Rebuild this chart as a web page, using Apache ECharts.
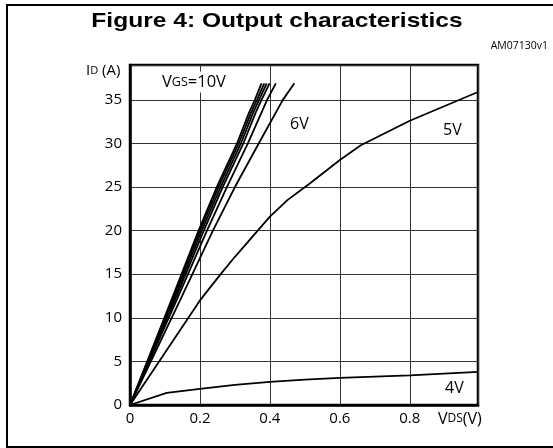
<!DOCTYPE html>
<html>
<head>
<meta charset="utf-8">
<script src="https://cdn.jsdelivr.net/npm/echarts@6/dist/echarts.min.js"></script>
<style>html,body{margin:0;padding:0;background:#fff}#c{width:553px;height:448px}</style>
</head>
<body>
<div id="c"></div>
<script>
// Data: [VDS (V), ID (A)]
const vgs10 = [[0,0],[0.118,12],[0.196,20],[0.248,25],[0.306,30],[0.340,33.5],[0.357,35],[0.376,36.9]];
const vgs9  = [[0,0],[0.121,12],[0.200,20],[0.253,25],[0.311,30],[0.346,33.5],[0.363,35],[0.384,36.9]];
const vgs8  = [[0,0],[0.124,12],[0.205,20],[0.259,25],[0.317,30],[0.352,33.5],[0.369,35],[0.391,36.9]];
const vgs7  = [[0,0],[0.128,12],[0.211,20],[0.265,25],[0.324,30],[0.359,33.5],[0.376,35],[0.399,36.9]];
const vgs65 = [[0,0],[0.133,12],[0.220,20],[0.277,25],[0.337,30],[0.392,35],[0.417,36.9]];
const vgs6  = [[0,0],[0.143,12],[0.237,20],[0.300,25],[0.368,30],[0.437,35],[0.470,36.9]];
const vgs5  = [[0,0],[0.1,6.0],[0.2,12.0],[0.257,14.9],[0.3,17.0],[0.4,21.6],[0.45,23.5],[0.514,25.4],[0.6,28.1],[0.66,29.8],[0.8,32.6],[0.995,35.9]];
const vgs4  = [[0,0],[0.105,1.4],[0.2,1.85],[0.3,2.3],[0.4,2.65],[0.5,2.9],[0.6,3.1],[0.8,3.4],[0.995,3.8]];
const curves = [vgs10, vgs9, vgs8, vgs7, vgs65, vgs6, vgs5, vgs4];
const curveNames = ['10V','9V','8V','7V','6.5V','6V','5V','4V'];
const xTicks = [0, 0.2, 0.4, 0.6, 0.8];
const yTicks = [0, 5, 10, 15, 20, 25, 30, 35];

const FONT = '"Open Sans", "DejaVu Sans", sans-serif';
const chart = echarts.init(document.getElementById('c'));
const grid = {left:130, top:65, right:75, bottom:43};

chart.setOption({
  animation:false,
  backgroundColor:'#fff',
  grid: Object.assign({show:true, borderColor:'#000', borderWidth:2.5, backgroundColor:'transparent'}, grid),
  xAxis:{
    type:'value', min:0, max:0.995, interval:0.2,
    axisLine:{show:true, lineStyle:{color:'#000', width:2.5}},
    axisTick:{show:false},
    axisLabel:{color:'#000', fontSize:15, fontFamily:FONT, margin:6, showMaxLabel:false,
      formatter:v => xTicks.some(t => Math.abs(t - v) < 1e-6) ? String(+v.toFixed(1)) : ''},
    splitLine:{show:true, lineStyle:{color:'#333', width:1}}
  },
  yAxis:{
    type:'value', min:0, max:39, interval:5,
    axisLine:{show:true, lineStyle:{color:'#000', width:2.5}},
    axisTick:{show:false},
    axisLabel:{color:'#000', fontSize:15, fontFamily:FONT, margin:8, showMaxLabel:false,
      formatter:v => yTicks.indexOf(v) >= 0 ? String(v) : ''},
    splitLine:{show:true, lineStyle:{color:'#333', width:1}}
  },
  series: curves.map((d,i) => ({
    name: curveNames[i], type:'line', data:d, showSymbol:false, symbol:'none',
    lineStyle:{color:'#000', width:1.8}, z:3, silent:true
  })),
  graphic:[
    {type:'rect', shape:{x:7, y:5, width:560, height:442}, style:{fill:'none', stroke:'#000', lineWidth:2}, z:0, silent:true},
    {type:'text', x:277, y:21, scaleX:1.17, style:{text:'Figure 4: Output characteristics', font:'bold 21px "Liberation Sans", Arial, sans-serif', fill:'#000', textAlign:'center', textVerticalAlign:'middle'}, z:10},
    {type:'text', x:548, y:46, style:{text:'AM07130v1', font:'10.5px ' + FONT, fill:'#000', textAlign:'right', textVerticalAlign:'middle'}, z:10},
    {type:'text', x:86, y:71, style:{text:'{a|I}{b|D}{a| (A)}', textVerticalAlign:'middle',
      rich:{a:{fontSize:15, fontFamily:FONT, fill:'#000'}, b:{fontSize:11, fontFamily:FONT, fill:'#000'}}}, z:10},
    {type:'text', x:438, y:419, style:{text:'{a|V}{b|DS}{a|(V)}', textVerticalAlign:'middle',
      rich:{a:{fontSize:16, fontFamily:FONT, fill:'#000'}, b:{fontSize:12, fontFamily:FONT, fill:'#000'}}}, z:10},
    {type:'text', x:161, y:82, style:{text:'{a|V}{b|GS}{a|=10V}', textVerticalAlign:'middle', backgroundColor:'#fff', padding:[2,1,2,1],
      rich:{a:{fontSize:16.5, fontFamily:FONT, fill:'#000'}, b:{fontSize:12.5, fontFamily:FONT, fill:'#000'}}}, z:10},
    {type:'text', x:290, y:124, style:{text:'6V', font:'16px ' + FONT, fill:'#000', textVerticalAlign:'middle'}, z:10},
    {type:'text', x:443, y:130, style:{text:'5V', font:'16px ' + FONT, fill:'#000', textVerticalAlign:'middle'}, z:10},
    {type:'text', x:445, y:388, style:{text:'4V', font:'16px ' + FONT, fill:'#000', textVerticalAlign:'middle'}, z:10}
  ]
});
</script>
</body>
</html>
